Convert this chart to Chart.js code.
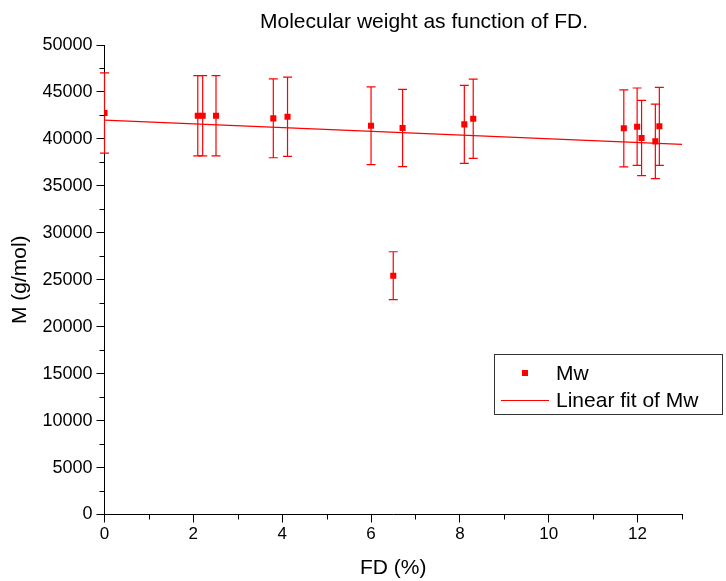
<!DOCTYPE html>
<html>
<head>
<meta charset="utf-8">
<script src="https://cdn.jsdelivr.net/npm/chart.js@4"></script>
<style>
  body { margin: 0; background: #fff; }
  #wrap { width: 726px; height: 581px; }
</style>
</head>
<body>
<div id="wrap"><canvas id="grafico"></canvas></div>
<script>
// datos
const fdValores = [0, 2.1, 2.21, 2.51, 3.80, 4.12, 6.0, 6.5, 6.71, 8.10, 8.30, 11.69, 11.99, 12.09, 12.40, 12.49];
const mwValores = [42760, 42470, 42470, 42470, 42190, 42360, 41400, 25430, 41160, 41550, 42150, 41130, 41300, 40100, 39740, 41340];
const mwErrores = [4280, 4270, 4270, 4270, 4200, 4220, 4150, 2550, 4120, 4150, 4220, 4100, 4120, 4010, 3960, 4150];
const ajusteX = [0, 13];
const ajusteY = [42010, 39420];
const ticksMenoresX = [1, 3, 5, 7, 9, 11, 13];
const ticksMenoresY = [2500, 7500, 12500, 17500, 22500, 27500, 32500, 37500, 42500, 47500];

const fuente = 'Liberation Sans, Arial, sans-serif';
const rojo = '#ff0000';

// barras de error
const barrasError = {
    id: 'barrasError',
    beforeDatasetsDraw(chart) {
        const { ctx, scales: { x, y } } = chart;
        ctx.save();
        ctx.strokeStyle = rojo;
        ctx.lineWidth = 1.2;
        for (let i = 0; i < fdValores.length; i++) {
            const px = x.getPixelForValue(fdValores[i]);
            const arriba = y.getPixelForValue(mwValores[i] + mwErrores[i]);
            const abajo = y.getPixelForValue(mwValores[i] - mwErrores[i]);
            ctx.beginPath();
            ctx.moveTo(px, arriba);
            ctx.lineTo(px, abajo);
            ctx.moveTo(px - 4.5, arriba);
            ctx.lineTo(px + 4.5, arriba);
            ctx.moveTo(px - 4.5, abajo);
            ctx.lineTo(px + 4.5, abajo);
            ctx.stroke();
        }
        ctx.restore();
    }
};

// ticks menores, titulo y leyenda
const extras = {
    id: 'extras',
    afterDraw(chart) {
        const { ctx, chartArea, scales: { x, y } } = chart;
        ctx.save();
        ctx.strokeStyle = '#000';
        ctx.lineWidth = 1;
        ctx.beginPath();
        ticksMenoresX.forEach(v => {
            const px = Math.round(x.getPixelForValue(v)) + 0.5;
            ctx.moveTo(px, chartArea.bottom);
            ctx.lineTo(px, chartArea.bottom + 5);
        });
        ticksMenoresY.forEach(v => {
            const py = Math.round(y.getPixelForValue(v)) + 0.5;
            ctx.moveTo(chartArea.left, py);
            ctx.lineTo(chartArea.left - 5, py);
        });
        ctx.stroke();

        // titulo
        ctx.fillStyle = '#000';
        ctx.font = '21px ' + fuente;
        ctx.textAlign = 'center';
        ctx.textBaseline = 'middle';
        ctx.fillText('Molecular weight as function of FD.', 424, 22);

        // leyenda
        const lx = 494, ly = 354, lw = 228, lh = 60;
        ctx.strokeStyle = '#333';
        ctx.strokeRect(lx + 0.5, ly + 0.5, lw, lh);
        const ds = chart.data.datasets;
        ctx.fillStyle = rojo;
        ctx.fillRect(522, 370, 6, 6);
        ctx.strokeStyle = rojo;
        ctx.beginPath();
        ctx.moveTo(501, 400.5);
        ctx.lineTo(549, 400.5);
        ctx.stroke();
        ctx.fillStyle = '#000';
        ctx.textAlign = 'left';
        ctx.font = '21px ' + fuente;
        ctx.fillText(ds[0].label, 556, 374);
        ctx.fillText(ds[1].label, 556, 401);
        ctx.restore();
    }
};

new Chart(document.getElementById('grafico'), {
    type: 'scatter',
    data: {
        datasets: [{
            label: 'Mw',
            data: fdValores.map((v, i) => ({ x: v, y: mwValores[i] })),
            backgroundColor: rojo,
            borderColor: rojo,
            borderWidth: 0,
            pointStyle: 'rect',
            pointRadius: 4.3,
            pointHoverRadius: 4.3
        }, {
            label: 'Linear fit of Mw',
            data: ajusteX.map((v, i) => ({ x: v, y: ajusteY[i] })),
            showLine: true,
            borderColor: rojo,
            borderWidth: 1.2,
            pointRadius: 0
        }]
    },
    options: {
        responsive: true,
        maintainAspectRatio: false,
        animation: false,
        layout: { padding: { left: 0, right: 44, top: 45, bottom: 0 } },
        plugins: {
            legend: { display: false },
            tooltip: { enabled: false }
        },
        scales: {
            x: {
                type: 'linear',
                min: 0,
                max: 13,
                afterFit(scale) { scale.height = 66.5; },
                border: { color: '#000', width: 1 },
                grid: { drawOnChartArea: false, tickLength: 8, color: '#000' },
                ticks: {
                    stepSize: 2,
                    includeBounds: false,
                    color: '#000',
                    padding: 2,
                    maxRotation: 0,
                    font: { family: fuente, size: 17 }
                },
                title: {
                    display: true,
                    text: 'FD (%)',
                    color: '#000',
                    padding: { top: 0, bottom: 0 },
                    font: { family: fuente, size: 21 }
                }
            },
            y: {
                min: 0,
                max: 50000,
                afterFit(scale) { scale.width = 104.5; },
                border: { color: '#000', width: 1 },
                grid: { drawOnChartArea: false, tickLength: 8, color: '#000' },
                ticks: {
                    stepSize: 5000,
                    color: '#000',
                    padding: 4,
                    callback: v => String(v),
                    font: { family: fuente, size: 18 }
                },
                title: {
                    display: true,
                    text: 'M (g/mol)',
                    color: '#000',
                    padding: { top: 8, bottom: 0 },
                    font: { family: fuente, size: 21 }
                }
            }
        }
    },
    plugins: [barrasError, extras]
});
</script>
</body>
</html>
